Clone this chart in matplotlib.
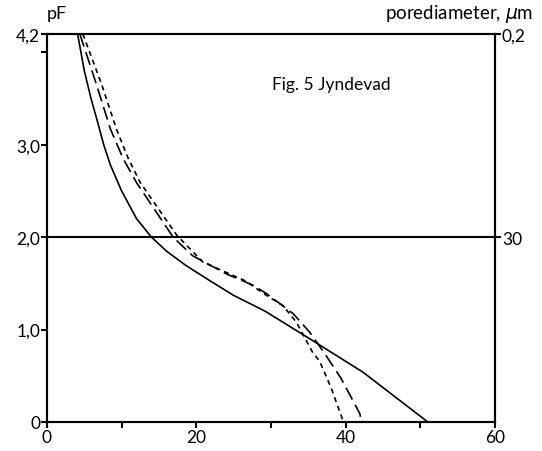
import matplotlib.pyplot as plt

plt.rcParams['font.family'] = ['Lato', 'DejaVu Sans']

# pore water curves, Jyndevad: water content (x) against pF (y)
solid_x = [4.1, 5.0, 5.9, 6.7, 7.6, 8.5, 10.0, 12.0, 14.0, 16.0, 18.5, 21.8, 25.0, 29.2, 35.2, 42.3, 51.0]
solid_pf = [4.2, 3.8, 3.5, 3.27, 3.0, 2.78, 2.5, 2.2, 2.0, 1.85, 1.7, 1.53, 1.37, 1.2, 0.9, 0.54, 0.0]

long_x = [4.4, 6.6, 8.5, 10.2, 12.0, 16.9, 19.5, 24.1, 27.6, 29.4, 33.0, 35.2, 37.2, 39.4, 41.9, 42.1]
long_pf = [4.2, 3.66, 3.17, 2.85, 2.59, 2.0, 1.8, 1.6, 1.48, 1.39, 1.17, 0.97, 0.74, 0.47, 0.09, 0.0]

short_x = [4.8, 7.3, 9.3, 10.9, 12.5, 17.4, 20.9, 26.5, 29.4, 31.6, 33.4, 35.6, 36.5, 38.1, 39.7]
short_pf = [4.2, 3.66, 3.17, 2.85, 2.59, 2.02, 1.73, 1.53, 1.37, 1.26, 1.08, 0.75, 0.66, 0.36, 0.0]

x_ticks = [0, 10, 20, 30, 40, 50, 60]
x_labels = ['0', '', '20', '', '40', '', '60']
pf_ticks = [0, 1, 2, 3, 4, 4.2]
pf_labels = ['0', '1,0', '2,0', '3,0', '', '4,2']
pore_ticks = [2.0, 4.2]
pore_labels = ['30', '0,2']

fig = plt.figure(figsize=(5.42, 4.52), dpi=100)
ax = fig.add_axes([0.0867, 0.0642, 0.8266, 0.8584])

ax.plot(solid_x, solid_pf, color='black', linewidth=1.2)
ax.plot(long_x, long_pf, color='black', linewidth=1.2, dashes=(8, 3.5))
ax.plot(short_x, short_pf, color='black', linewidth=1.2, dashes=(3, 2.5))
ax.axhline(2.0, color='black', linewidth=1.5)

ax.set_xlim(0, 60)
ax.set_ylim(0, 4.2)
ax.set_xticks(x_ticks)
ax.set_xticklabels(x_labels)
ax.set_yticks(pf_ticks)
ax.set_yticklabels(pf_labels)
ax.tick_params(direction='out', length=4, width=1.5, labelsize=12.5, pad=1)

ax2 = ax.twinx()
ax2.set_ylim(0, 4.2)
ax2.set_yticks(pore_ticks)
ax2.set_yticklabels(pore_labels)
ax2.tick_params(direction='out', length=4, width=1.5, labelsize=12.5, pad=1)

for a in (ax, ax2):
    for s in a.spines.values():
        s.set_linewidth(1.5)

ax.text(30.1, 3.66, 'Fig. 5 Jyndevad', fontsize=12.5, ha='left', va='center')
fig.text(57 / 542, 1 - 14 / 452, 'pF', fontsize=13, ha='center', va='center')
fig.text(533 / 542, 1 - 14 / 452, r'porediameter, $\mu$m', fontsize=13.5, ha='right', va='center')

fig.savefig('out.png', dpi=100)
